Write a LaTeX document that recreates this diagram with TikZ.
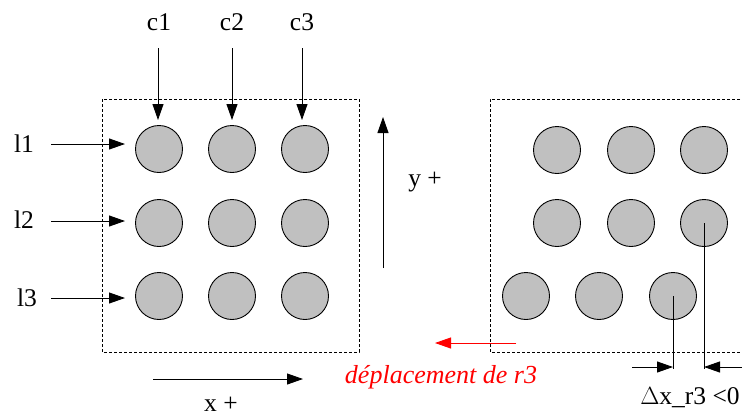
\documentclass[tikz,border=0pt]{standalone}
\usepackage{fontspec}
\setmainfont{Liberation Serif}
\usetikzlibrary{arrows.meta}
\definecolor{ballgray}{RGB}{192,192,192}
\definecolor{redtxt}{RGB}{255,0,0}
\tikzset{
  ball/.style={circle,draw=black,line width=0.9pt,fill=ballgray,minimum size=47pt,inner sep=0pt},
  lbl/.style={font=\fontsize{25.5}{30}\selectfont,inner sep=0pt},
  arr/.style={line width=0.9pt,-{Triangle[length=16pt,width=11pt]}},
  frame/.style={line width=0.9pt,dash pattern=on 3pt off 2pt},
  lead/.style={line width=0.9pt}
}
\begin{document}
\begin{tikzpicture}[x=1pt,y=-1pt]
\useasboundingbox (0,0) rectangle (742,416);
% left frame
\draw[frame] (102,99) rectangle (359,352);
% left balls
\foreach \r/\y in {1/149,2/223,3/296}{
  \foreach \c/\x in {1/159,2/232,3/305}{
    \node[ball] (a\r\c) at (\x,\y) {};
  }
}
% column labels and arrows
\node[lbl] (c1) at (159,22) {c1};
\node[lbl] (c2) at (232,22) {c2};
\node[lbl] (c3) at (302,22) {c3};
\foreach \i/\x in {1/158,2/232,3/302}{
  \coordinate (cs\i) at (\x,48);
  \coordinate (ce\i) at (\x,120);
  \draw[arr] (cs\i) -- (ce\i);
}
% row labels and arrows
\node[lbl] (l1) at (24,144) {l1};
\node[lbl] (l2) at (24,220) {l2};
\node[lbl] (l3) at (27,298) {l3};
\foreach \i/\y in {1/144,2/221,3/298}{
  \coordinate (ls\i) at (51,\y);
  \coordinate (le\i) at (125,\y);
  \draw[arr] (ls\i) -- (le\i);
}
% x+ arrow
\coordinate (xs) at (153,379);
\coordinate (xe) at (303,379);
\draw[arr] (xs) -- (xe);
\node[lbl] (xl) at (221,404) {x +};
% y+ arrow
\coordinate (ys) at (383,268);
\coordinate (ye) at (383,117);
\draw[arr] (ys) -- (ye);
\node[lbl] (yl) at (425,182) {y +};
% right frame (open on the right)
\draw[frame] (745,99) -- (490,99) -- (490,352) -- (745,352);
% right balls
\foreach \c/\x in {1/557,2/631,3/704}{
  \node[ball] (b1\c) at (\x,150) {};
  \node[ball] (b2\c) at (\x,223) {};
}
\foreach \c/\x in {1/526,2/599,3/673}{
  \node[ball] (b3\c) at (\x,296) {};
}
% displacement measure
\coordinate (m1) at (673,369);
\coordinate (m2) at (704,369);
\draw[lead] (b33.center) -- (m1);
\draw[lead] (b23.center) -- (m2);
\coordinate (da) at (632,367);
\coordinate (db) at (673,367);
\coordinate (dc) at (742,367);
\coordinate (dd) at (704,367);
\draw[arr] (da) -- (db);
\draw[arr] (dc) -- (dd);
\node[lbl] (dx) at (690,398) {$\Delta$x\_r3 <0};
% red displacement arrow
\coordinate (rs) at (516,343);
\coordinate (re) at (435,343);
\draw[arr,draw=redtxt,fill=redtxt] (rs) -- (re);
\node[lbl,text=redtxt,font=\fontsize{26}{30}\selectfont\itshape] (rl) at (441,377) {déplacement de r3};
\end{tikzpicture}
\end{document}
